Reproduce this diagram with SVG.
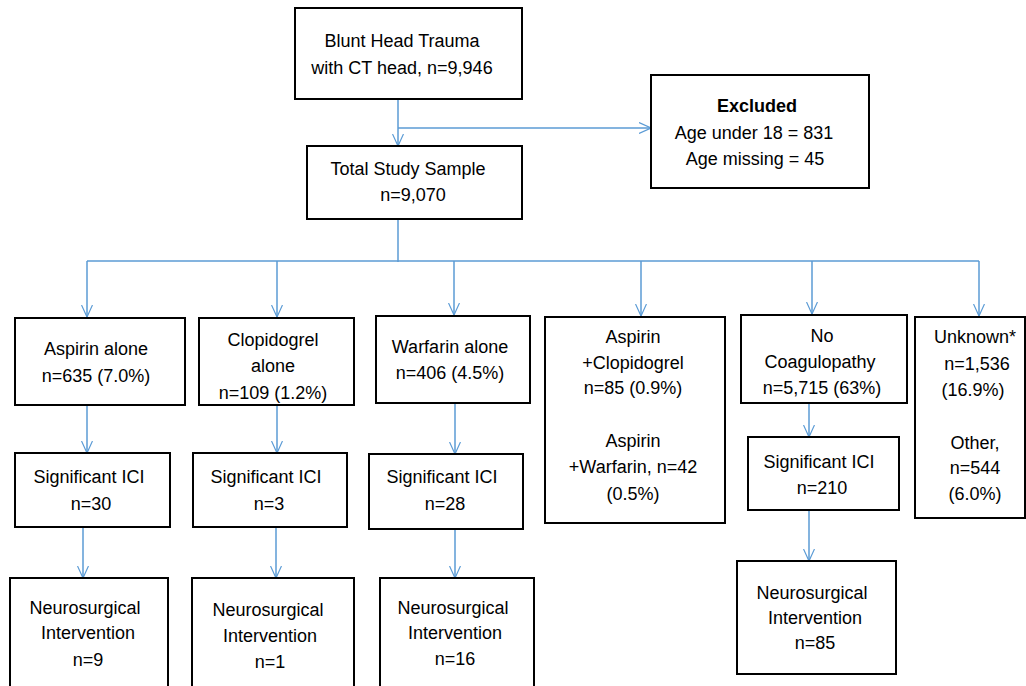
<svg xmlns="http://www.w3.org/2000/svg" width="1026" height="686" viewBox="0 0 1026 686">
<defs>
<marker id="arr" viewBox="0 0 12 12" refX="12" refY="6" markerWidth="12" markerHeight="12" markerUnits="userSpaceOnUse" orient="auto">
<path d="M0,0.5 L12,6 L0,11.5" fill="none" stroke="#5B9BD5" stroke-width="1.2"/>
</marker>
<style>
.box{fill:#fff;stroke:#000;stroke-width:2}
.t{font-family:"Liberation Sans",Arial,sans-serif;font-size:18px;fill:#000;text-anchor:middle}
.b{font-weight:bold}
.c{stroke:#5B9BD5;stroke-width:1.5;fill:none}
.a{marker-end:url(#arr)}
</style>
</defs>
<rect width="1026" height="686" fill="#fff"/>
<g id="connectors">
<line class="c a" x1="398" y1="99" x2="398" y2="146"/>
<line class="c a" x1="398" y1="128" x2="651" y2="128"/>
<line class="c" x1="398" y1="219" x2="398" y2="262"/>
<line class="c" x1="87" y1="261" x2="979" y2="261"/>
<line class="c a" x1="87" y1="261" x2="87" y2="317"/>
<line class="c a" x1="277" y1="261" x2="277" y2="317"/>
<line class="c a" x1="454" y1="261" x2="454" y2="315"/>
<line class="c a" x1="641" y1="261" x2="641" y2="316"/>
<line class="c a" x1="812" y1="261" x2="812" y2="314"/>
<line class="c a" x1="979" y1="261" x2="979" y2="316"/>
<line class="c a" x1="87" y1="405" x2="87" y2="453"/>
<line class="c a" x1="277" y1="405" x2="277" y2="453"/>
<line class="c a" x1="455" y1="403" x2="455" y2="454"/>
<line class="c a" x1="809" y1="403" x2="809" y2="437"/>
<line class="c a" x1="83" y1="527" x2="83" y2="578"/>
<line class="c a" x1="276" y1="527" x2="276" y2="578"/>
<line class="c a" x1="455" y1="529" x2="455" y2="578"/>
<line class="c a" x1="809" y1="510" x2="809" y2="561"/>
</g>
<g id="blunt">
<rect class="box" x="295" y="8" width="227" height="91"/>
<text class="t" x="402" y="46.5">Blunt Head Trauma</text>
<text class="t" x="402" y="73.5">with CT head, n=9,946</text>
</g>
<g id="total">
<rect class="box" x="307" y="146" width="215" height="73"/>
<text class="t" x="408" y="175">Total Study Sample</text>
<text class="t" x="413" y="200.5">n=9,070</text>
</g>
<g id="excluded">
<rect class="box" x="651" y="75" width="218" height="113"/>
<text class="t b" x="757" y="111.5">Excluded</text>
<text class="t" x="754" y="138.5">Age under 18 = 831</text>
<text class="t" x="755" y="164.5">Age missing = 45</text>
</g>
<g id="aspirin">
<rect class="box" x="15" y="318" width="170" height="87"/>
<text class="t" x="96" y="354.5">Aspirin alone</text>
<text class="t" x="96" y="381.5">n=635 (7.0%)</text>
</g>
<g id="clopidogrel">
<rect class="box" x="199" y="318" width="155" height="87"/>
<text class="t" x="273" y="345.5">Clopidogrel</text>
<text class="t" x="273" y="371.5">alone</text>
<text class="t" x="273" y="398.5">n=109 (1.2%)</text>
</g>
<g id="warfarin">
<rect class="box" x="376" y="316" width="154" height="87"/>
<text class="t" x="450" y="352.5">Warfarin alone</text>
<text class="t" x="450" y="378.5">n=406 (4.5%)</text>
</g>
<g id="combo">
<rect class="box" x="545" y="317" width="180" height="206"/>
<text class="t" x="633" y="342.5">Aspirin</text>
<text class="t" x="633" y="368.5">+Clopidogrel</text>
<text class="t" x="633" y="393.5">n=85 (0.9%)</text>
<text class="t" x="633" y="446.5">Aspirin</text>
<text class="t" x="633" y="472.5">+Warfarin, n=42</text>
<text class="t" x="633" y="499.5">(0.5%)</text>
</g>
<g id="nocoag">
<rect class="box" x="741" y="315" width="166" height="88"/>
<text class="t" x="822" y="341.5">No</text>
<text class="t" x="820" y="367.5">Coagulopathy</text>
<text class="t" x="822" y="393.5">n=5,715 (63%)</text>
</g>
<g id="unknown">
<rect class="box" x="915" y="317" width="110" height="201"/>
<text class="t" x="975" y="342.5">Unknown*</text>
<text class="t" x="977" y="369.5">n=1,536</text>
<text class="t" x="973" y="395.5">(16.9%)</text>
<text class="t" x="975" y="448.5">Other,</text>
<text class="t" x="975" y="473.5">n=544</text>
<text class="t" x="975" y="499.5">(6.0%)</text>
</g>
<g id="ici-aspirin">
<rect class="box" x="15" y="453" width="155" height="74"/>
<text class="t" x="89" y="482.5">Significant ICI</text>
<text class="t" x="91" y="509.5">n=30</text>
</g>
<g id="ici-clopidogrel">
<rect class="box" x="193" y="453" width="154" height="74"/>
<text class="t" x="266" y="482.5">Significant ICI</text>
<text class="t" x="269" y="509.5">n=3</text>
</g>
<g id="ici-warfarin">
<rect class="box" x="369" y="454" width="154" height="75"/>
<text class="t" x="442" y="482.5">Significant ICI</text>
<text class="t" x="445" y="509.5">n=28</text>
</g>
<g id="ici-nocoag">
<rect class="box" x="748" y="437" width="151" height="73"/>
<text class="t" x="819" y="467.5">Significant ICI</text>
<text class="t" x="822" y="493.5">n=210</text>
</g>
<g id="neuro-aspirin">
<rect class="box" x="10" y="578" width="158" height="120"/>
<text class="t" x="85" y="613.5">Neurosurgical</text>
<text class="t" x="88" y="638.5">Intervention</text>
<text class="t" x="88" y="665.5">n=9</text>
</g>
<g id="neuro-clopidogrel">
<rect class="box" x="192" y="578" width="162" height="120"/>
<text class="t" x="268" y="615.5">Neurosurgical</text>
<text class="t" x="270" y="641.5">Intervention</text>
<text class="t" x="270" y="667.5">n=1</text>
</g>
<g id="neuro-warfarin">
<rect class="box" x="380" y="578" width="154" height="120"/>
<text class="t" x="453" y="613.5">Neurosurgical</text>
<text class="t" x="455" y="638.5">Intervention</text>
<text class="t" x="455" y="664.5">n=16</text>
</g>
<g id="neuro-nocoag">
<rect class="box" x="737" y="561" width="159" height="113"/>
<text class="t" x="812" y="598.5">Neurosurgical</text>
<text class="t" x="815" y="623.5">Intervention</text>
<text class="t" x="815" y="648.5">n=85</text>
</g>
</svg>
